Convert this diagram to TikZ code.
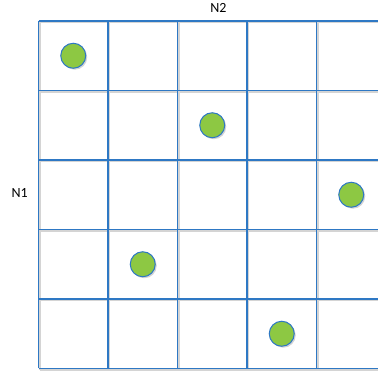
\documentclass[tikz,border=0pt]{standalone}
\usepackage{fontspec}
\setmainfont{Carlito}
\definecolor{gridBlue}{HTML}{2E78C4}
\definecolor{gridShade}{HTML}{D4D4D4}
\definecolor{dotGreen}{HTML}{8DC843}
\tikzset{
  grid line/.style={draw=gridBlue, line width=1.8pt},
  grid shade/.style={draw=gridShade, line width=1.8pt},
  grid dot/.style={circle, draw=gridBlue, fill=dotGreen, line width=1pt, minimum size=25pt, inner sep=0pt},
  dot shade/.style={circle, fill=gridShade, minimum size=25pt, inner sep=0pt},
  axis label/.style={font=\fontsize{14}{16}\selectfont, text=black},
}
\begin{document}
\begin{tikzpicture}
  \useasboundingbox (0,0) rectangle (378pt,-371pt);
  \clip (0,0) rectangle (378pt,-371pt);
  \begin{scope}[x=69.5pt, y=-69.5pt, shift={(38.5pt,-21pt)}]
    % soft shadow under the grid
    \foreach \i in {0,...,5} {
      \draw[grid shade] ([shift={(1.5pt,-1.5pt)}]\i,0) -- ([shift={(1.5pt,-1.5pt)}]\i,5);
      \draw[grid shade] ([shift={(1.5pt,-1.5pt)}]0,\i) -- ([shift={(1.5pt,-1.5pt)}]5,\i);
    }
    \foreach \i in {0,...,5} {
      \draw[grid line] (\i,0) -- (\i,5);
      \draw[grid line] (0,\i) -- (5,\i);
    }
    % one dot per row
    \foreach \c/\r [count=\k] in {0/0, 2/1, 4/2, 1/3, 3/4} {
      \node[dot shade] at ([shift={(1.5pt,-1.5pt)}]\c+0.5,\r+0.5) {};
      \node[grid dot] (dot\k) at (\c+0.5,\r+0.5) {};
    }
    \node[axis label] (colLabel) at (2.59,-0.19) {N2};
    \node[axis label] (rowLabel) at (-0.27,2.48) {N1};
  \end{scope}
\end{tikzpicture}
\end{document}
